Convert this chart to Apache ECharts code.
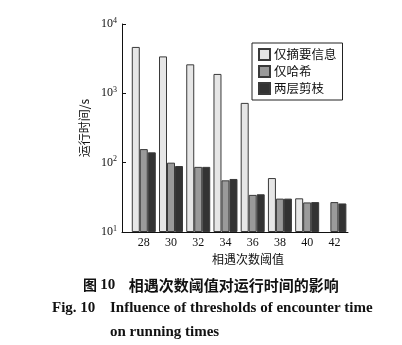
<!DOCTYPE html>
<html>
<head>
<meta charset="utf-8">
<script src="https://cdn.jsdelivr.net/npm/echarts@6/dist/echarts.min.js"></script>
<style>
  html, body { margin: 0; padding: 0; background: #fff; }
  #chart { width: 402px; height: 345px; }
</style>
</head>
<body>
<div id="chart"></div>
<script>
// Encounter-count thresholds on the horizontal axis
const thresholds = [28, 30, 32, 34, 36, 38, 40, 42];
// Running time in seconds for each pruning strategy
const summaryOnly = [4670, 3410, 2620, 1905, 728, 60, 30.6, null];
const hashOnly    = [157, 100, 87, 55.6, 34.3, 30.3, 26.7, 27];
const twoLayer    = [141, 89.5, 87, 58.2, 35, 30.3, 27, 25.8];
const seriesNames = ['仅摘要信息', '仅哈希', '两层剪枝'];
const yTicks = [10, 100, 1000, 10000];

const serif = '"Liberation Serif", "DejaVu Serif", serif';
const cjk = '"Noto Sans CJK SC", sans-serif';

function pairs(values) {
  return thresholds.map((t, i) => [t, values[i] == null ? '-' : values[i]]);
}

const chart = echarts.init(document.getElementById('chart'), null, { renderer: 'canvas' });

const barStyle = (color) => ({ color: color, borderColor: '#3a3a3a', borderWidth: 1 });

chart.setOption({
  backgroundColor: '#fff',
  animation: false,
  title: [
    {
      text: '{a|图 }{n|10}{b|    相遇次数阈值对运行时间的影响}',
      left: 83, top: 276, padding: 0,
      textStyle: {
        rich: {
          a: { fontFamily: cjk, fontWeight: 'bold', fontSize: 14, lineHeight: 18, verticalAlign: 'middle', color: '#111' },
          n: { fontFamily: serif, fontWeight: 'bold', fontSize: 15, lineHeight: 18, verticalAlign: 'middle', color: '#111' },
          b: { fontFamily: cjk, fontSize: 15, lineHeight: 18, verticalAlign: 'middle', color: '#111' }
        }
      }
    },
    {
      text: 'Fig. 10',
      left: 52, top: 301, padding: 0,
      textStyle: { fontFamily: serif, fontWeight: 'bold', fontSize: 15, color: '#111' }
    },
    {
      text: 'Influence of thresholds of encounter time',
      left: 110, top: 301, padding: 0,
      textStyle: { fontFamily: serif, fontWeight: 'bold', fontSize: 15, color: '#111' }
    },
    {
      text: 'on running times',
      left: 110, top: 325, padding: 0,
      textStyle: { fontFamily: serif, fontWeight: 'bold', fontSize: 15, color: '#111' }
    }
  ],
  legend: {
    orient: 'vertical',
    left: 252, top: 43,
    data: seriesNames,
    icon: 'rect',
    itemWidth: 11, itemHeight: 11, itemGap: 4,
    borderColor: '#222', borderWidth: 1,
    padding: [5, 6, 5, 6],
    textStyle: { fontFamily: cjk, fontSize: 12.5, color: '#111', padding: [0, 0, 0, -1] }
  },
  grid: { left: 122, right: 54, top: 24, bottom: 113, containLabel: false },
  xAxis: {
    type: 'value',
    min: 26.4, max: 43,
    name: '相遇次数阈值',
    nameLocation: 'middle',
    nameGap: 19,
    nameTextStyle: { fontFamily: cjk, fontSize: 12, color: '#111', padding: [0, 0, 0, 26] },
    axisLine: { show: true, lineStyle: { color: '#111', width: 1 } },
    axisTick: { show: false },
    splitLine: { show: false },
    axisLabel: {
      customValues: thresholds,
      margin: 5,
      fontFamily: serif, fontSize: 12, color: '#111'
    }
  },
  yAxis: {
    type: 'log',
    logBase: 10,
    min: 10, max: 10000,
    startValue: 10,
    name: '运行时间/s',
    nameLocation: 'middle',
    nameRotate: 90,
    nameGap: 32,
    nameTextStyle: { fontFamily: cjk, fontSize: 12, color: '#111' },
    axisLine: { show: true, lineStyle: { color: '#111', width: 1 } },
    axisTick: { show: true, inside: true, length: 4, customValues: yTicks, lineStyle: { color: '#111' } },
    minorTick: { show: false },
    splitLine: { show: false },
    axisLabel: {
      customValues: yTicks,
      margin: 5,
      formatter: (v) => '{b|10}{s|' + Math.round(Math.log10(v)) + '}',
      rich: {
        b: { fontFamily: serif, fontSize: 12, color: '#111' },
        s: { fontFamily: serif, fontSize: 8, color: '#111', padding: [0, 0, 7, 0] }
      }
    }
  },
  series: [
    { name: seriesNames[0], type: 'bar', data: pairs(summaryOnly), barWidth: 8, barGap: '0%', itemStyle: barStyle('#e6e6e6') },
    { name: seriesNames[1], type: 'bar', data: pairs(hashOnly), barWidth: 8, barGap: '0%', itemStyle: barStyle('#9a9a9a') },
    { name: seriesNames[2], type: 'bar', data: pairs(twoLayer), barWidth: 8, barGap: '0%', itemStyle: barStyle('#333333') }
  ]
});
</script>
</body>
</html>
